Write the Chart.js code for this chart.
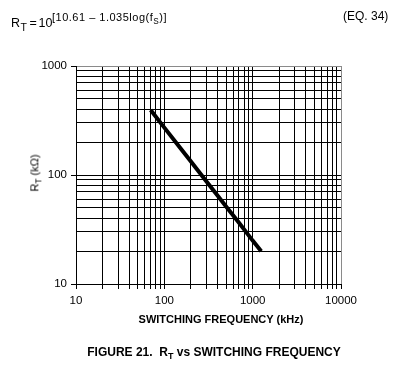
<!DOCTYPE html>
<html>
<head>
<meta charset="utf-8">
<script src="https://cdn.jsdelivr.net/npm/chart.js@4/dist/chart.umd.min.js"></script>
<style>
  html, body { margin: 0; padding: 0; background: #fff; }
  #wrap { position: relative; width: 413px; height: 380px; font-family: "Liberation Sans", Arial, sans-serif; color: #000; }
  #wrap canvas { position: absolute; left: 0; top: 0; }
  .txt { position: absolute; white-space: nowrap; line-height: 1; }
  .sub { font-size: 0.75em; position: relative; top: 0.35em; }
</style>
</head>
<body>
<div id="wrap">
  <canvas id="rtChart" width="413" height="380"></canvas>
  <!-- 수식 -->
  <div class="txt" style="left:11px; top:16.5px; font-size:12.5px;">R</div>
  <div class="txt" style="left:20.5px; top:21.5px; font-size:10.5px;">T</div>
  <div class="txt" style="left:29.5px; top:16.5px; font-size:12.5px;">=</div>
  <div class="txt" style="left:38.5px; top:16.5px; font-size:12.5px;">10</div>
  <div class="txt" style="left:52px; top:12px; font-size:11px; letter-spacing:0.5px;">[10.61 – 1.035log(f<span class="sub">S</span>)]</div>
  <div class="txt" style="left:343px; top:10px; font-size:12px;">(EQ. 34)</div>
  <div class="txt" style="left:35px; top:173px; font-size:11px; transform: translate(-50%, -50%) rotate(-90deg);">R<span class="sub">T</span> (kΩ)</div>
  <div class="txt" style="left:221px; top:319px; font-size:11px; font-weight:bold; transform: translate(-50%, -50%);">SWITCHING FREQUENCY (kHz)</div>
  <div class="txt" style="left:214px; top:352px; font-size:12px; font-weight:bold; transform: translate(-50%, -50%);">FIGURE 21.&nbsp; R<span class="sub">T</span> vs SWITCHING FREQUENCY</div>
</div>
<script>
// ---------- data ----------
// 스위칭 주파수 (kHz)
const freqKHz = [70, 100, 150, 200, 300, 400, 500, 700, 1000, 1250];
// R_T (kΩ)
const rtKOhm = [395, 272, 179, 133, 87, 65, 51.5, 36.5, 25, 20];

// 그리드 눈금 (log)
const xTickValues = [10, 20, 30, 40, 50, 60, 70, 80, 90,
  100, 200, 300, 400, 500, 600, 700, 800, 900,
  1000, 2000, 3000, 4000, 5000, 6000, 7000, 8000, 9000, 10000];
const yTickValues = [10, 20, 30, 40, 50, 60, 70, 80, 90,
  100, 200, 300, 400, 500, 600, 700, 800, 900, 1000];
const majorTicks = [10, 100, 1000, 10000];

const black = '#000';
const frameGray = '#8a8a8a';

function isMajor(v) {
  return majorTicks.includes(v);
}

// ---------- chart ----------
const points = freqKHz.map((f, i) => ({ x: f, y: rtKOhm[i] }));

const data = {
  datasets: [
    {
      data: points,
      borderColor: black,
      borderWidth: 4,
      pointRadius: 0,
      tension: 0,
      fill: false,
    },
  ],
};

const tickFont = { family: '"Liberation Sans", Arial, sans-serif', size: 11.5 };

const config = {
  type: 'line',
  data: data,
  options: {
    responsive: false,
    animation: false,
    layout: { padding: { top: 66, right: 72, left: 0, bottom: 0 } },
    plugins: {
      legend: { display: false },
      title: { display: false },
      tooltip: { enabled: false },
    },
    scales: {
      x: {
        type: 'logarithmic',
        min: 10,
        max: 10000,
        afterBuildTicks: (scale) => {
          scale.ticks = xTickValues.map((v) => ({ value: v, major: isMajor(v) }));
        },
        afterFit: (scale) => {
          scale.height = 96;
        },
        ticks: {
          autoSkip: false,
          maxRotation: 0,
          padding: 5,
          color: black,
          font: tickFont,
          callback: (v) => (isMajor(v) ? String(v) : ''),
        },
        grid: {
          color: (ctx) => (ctx.tick && ctx.tick.value === 10000 ? frameGray : black),
          lineWidth: 1,
          drawTicks: true,
          tickLength: 5,
          tickColor: black,
        },
        border: { display: true, color: black, width: 1 },
      },
      y: {
        type: 'logarithmic',
        min: 10,
        max: 1000,
        afterBuildTicks: (scale) => {
          scale.ticks = yTickValues.map((v) => ({ value: v, major: isMajor(v) }));
        },
        afterFit: (scale) => {
          scale.width = 76;
        },
        ticks: {
          autoSkip: false,
          padding: 4,
          color: black,
          font: tickFont,
          callback: (v) => (isMajor(v) ? String(v) : ''),
        },
        grid: {
          color: (ctx) => (ctx.tick && ctx.tick.value === 1000 ? frameGray : black),
          lineWidth: 1,
          drawTicks: true,
          tickLength: 5,
          tickColor: (ctx) => (ctx.tick && isMajor(ctx.tick.value) ? black : 'rgba(0,0,0,0)'),
        },
        border: { display: true, color: black, width: 1 },
      },
    },
  },
};

const rtChart = new Chart(document.getElementById('rtChart'), config);
</script>
</body>
</html>
